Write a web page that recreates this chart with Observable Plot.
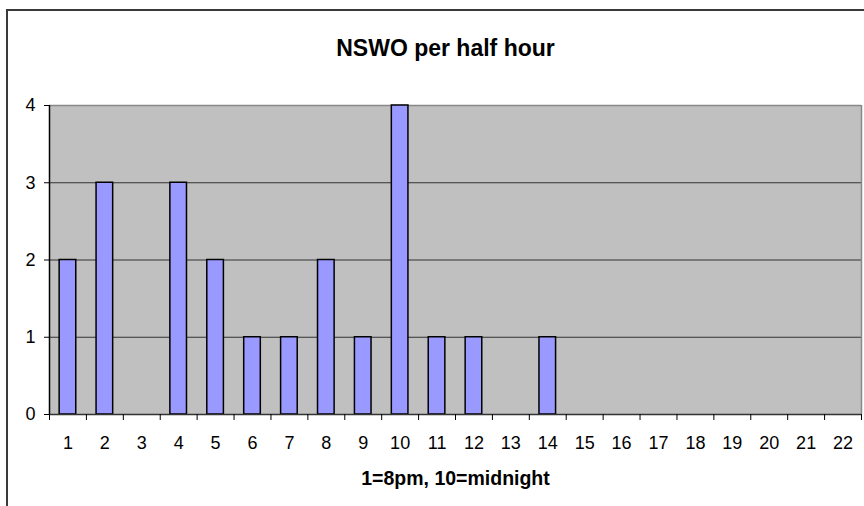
<!DOCTYPE html>
<html>
<head>
<meta charset="utf-8">
<script src="https://cdn.jsdelivr.net/npm/d3@7"></script>
<script src="https://cdn.jsdelivr.net/npm/@observablehq/plot@0.6"></script>
<style>
  html, body { margin: 0; padding: 0; background: #fff; overflow: hidden; }
  #wrap { position: relative; width: 864px; height: 506px; }
  #border { position: absolute; left: 6px; top: 9px; width: 1000px; height: 1000px;
            border-left: 2px solid #3a3a3a; border-top: 2px solid #3a3a3a; pointer-events: none; }
  svg { display: block; }
</style>
</head>
<body>
<div id="wrap"><div id="border"></div></div>
<script>
const hours = [1,2,3,4,5,6,7,8,9,10,11,12,13,14,15,16,17,18,19,20,21,22];
const counts = [2,3,0,3,2,1,1,2,1,4,1,1,0,1,0,0,0,0,0,0,0,0];
const yTicks = [0,1,2,3,4];
const title = "NSWO per half hour";
const xLabel = "1=8pm, 10=midnight";

const data = hours.map((h, i) => ({hour: h, count: counts[i]}));
const barWidth = 0.45;
const boundaries = d3.range(0.5, 23, 1);
const font = "'Liberation Sans', Arial, sans-serif";

const chart = Plot.plot({
  width: 864,
  height: 506,
  marginLeft: 49,
  marginRight: 3,
  marginTop: 105,
  marginBottom: 92,
  style: {fontFamily: font, fontSize: "18px", color: "#000", background: "transparent"},
  x: {type: "linear", domain: [0.5, 22.5]},
  y: {domain: [0, 4]},
  marks: [
    Plot.frame({fill: "#c0c0c0", stroke: null}),
    Plot.gridY({ticks: [1, 2, 3], stroke: "#333", strokeOpacity: 1, strokeWidth: 1.2}),
    Plot.ruleY([4], {stroke: "#888", strokeWidth: 1.5}),
    Plot.ruleX([22.5], {stroke: "#888", strokeWidth: 1.5}),
    Plot.rectY(data.filter(d => d.count > 0), {
      x1: d => d.hour - barWidth / 2,
      x2: d => d.hour + barWidth / 2,
      y1: 0,
      y2: "count",
      fill: "#9999ff",
      stroke: "#000",
      strokeWidth: 1.5
    }),
    Plot.ruleX([0.5], {stroke: "#000", strokeWidth: 1.5}),
    Plot.ruleY([0], {stroke: "#333", strokeWidth: 1.5}),
    Plot.axisY({ticks: yTicks, tickFormat: d => String(d), tickSize: 5, tickPadding: 9, fontSize: 18, label: null, stroke: "#000"}),
    Plot.axisX({ticks: boundaries, tickFormat: () => "", tickSize: 6, label: null, stroke: "#000"}),
    Plot.axisX({ticks: hours, tickFormat: d => String(d), tickSize: 0, tickPadding: 22, fontSize: 18, label: null}),
    Plot.text([title], {frameAnchor: "top", dx: -10, dy: -66, text: d => d, fontSize: 23, fontWeight: "bold", fill: "#000"}),
    Plot.text([xLabel], {frameAnchor: "bottom", dy: 70, text: d => d, fontSize: 19.5, fontWeight: "bold", fill: "#000"})
  ]
});
document.getElementById("wrap").prepend(chart);
</script>
</body>
</html>
